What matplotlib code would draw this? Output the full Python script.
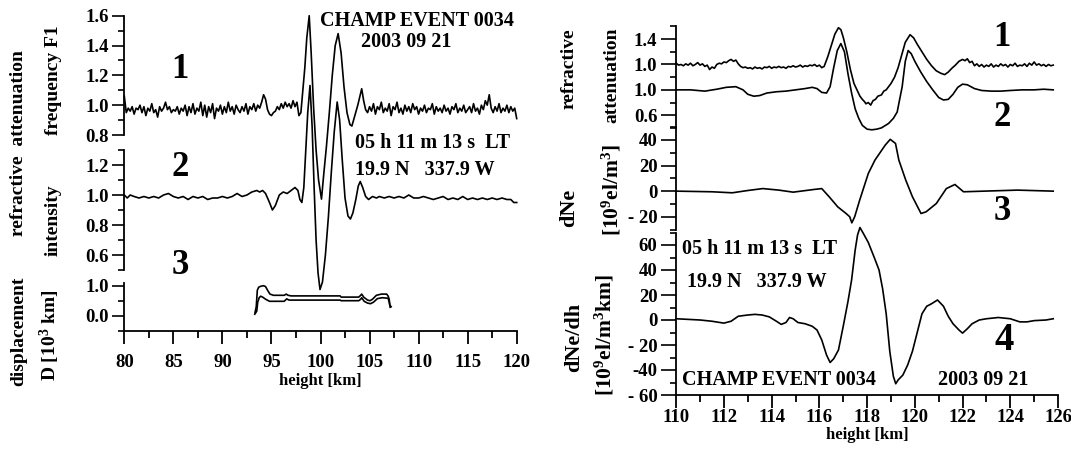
import numpy as np
import matplotlib
matplotlib.use("Agg")
import matplotlib.pyplot as plt
from matplotlib.ticker import FixedLocator, MultipleLocator, FormatStrFormatter

plt.rcParams['font.family'] = ['Liberation Serif', 'DejaVu Serif']
plt.rcParams['font.weight'] = 'bold'
plt.rcParams['axes.labelweight'] = 'bold'
plt.rcParams['mathtext.fontset'] = 'custom'
plt.rcParams['mathtext.rm'] = 'Liberation Serif:bold'
plt.rcParams['mathtext.default'] = 'rm'
plt.rcParams['axes.unicode_minus'] = False

W, H = 1071, 458

# ---------------- left panel data (height in km) ----------------
# curve 1 : refractive attenuation, frequency F1 (noisy)
f1_noise_a = [1.06, 0.95, 0.98, 0.96, 0.99, 0.94, 0.98, 0.97, 1.00, 0.95,
              0.99, 0.93, 0.98, 0.96, 1.01, 0.95, 0.97, 0.92, 0.99, 0.96,
              0.98, 1.02, 0.97, 0.99, 0.95, 0.97, 0.96, 0.99, 0.94, 0.98,
              0.96, 1.00, 0.93, 0.99, 0.95, 1.01, 0.94, 0.98, 0.96, 1.02,
              0.93, 1.00, 0.92, 0.99, 0.95, 1.01, 0.91, 0.98, 0.96, 1.00,
              0.94, 0.99, 0.95, 1.02, 0.96, 0.99, 0.94, 1.00, 0.97, 0.95,
              0.99, 0.96, 1.01, 0.94, 0.99, 0.97, 1.01, 0.96, 1.00, 0.98,
              1.02, 1.07, 1.04, 0.97, 0.94, 0.93, 0.95, 0.96, 0.99, 0.97,
              1.01, 0.98, 1.02, 0.99, 1.01, 0.98, 1.03, 0.99, 1.02, 0.93]
f1_event_h = [98.0, 98.2, 98.4, 98.6, 98.85, 99.05, 99.3, 99.55, 99.8, 100.1,
              100.35, 100.6, 100.9, 101.2, 101.5, 101.8, 102.1, 102.4, 102.7, 103.0,
              103.2, 103.5, 103.8, 104.05, 104.2, 104.4, 104.6]
f1_event = [0.95, 1.10, 1.25, 1.45, 1.60, 1.35, 0.98, 0.70, 0.50, 0.37,
            0.55, 0.72, 0.95, 1.20, 1.40, 1.48, 1.35, 1.12, 0.95, 0.87,
            0.86, 0.93, 1.00, 1.07, 1.11, 1.03, 0.97]
f1_noise_b = [0.95, 0.99, 0.96, 1.01, 0.94, 0.99, 0.97, 1.02, 0.95, 0.98,
              0.96, 1.01, 0.93, 0.99, 0.97, 1.02, 0.95, 0.98, 0.94, 1.00,
              0.96, 0.99, 0.95, 1.01, 0.97, 0.99, 0.94, 0.98, 0.96, 1.00,
              0.95, 0.98, 0.97, 1.01, 0.94, 0.99, 0.96, 0.98, 0.95, 1.00,
              0.96, 0.98, 0.94, 0.99, 0.97, 1.01, 0.95, 0.98, 0.96, 1.00,
              0.95, 0.97, 0.99, 0.95, 1.01, 0.96, 0.98, 0.94, 1.00, 0.97,
              1.03, 1.00, 1.07, 0.98, 0.95, 0.99, 0.96, 1.01, 0.95, 0.98,
              0.96, 1.00, 0.95, 0.99, 0.96, 0.98, 0.91]
f1_h = list(np.arange(len(f1_noise_a)) * 0.2 + 80.0) + f1_event_h + \
       list(np.arange(len(f1_noise_b)) * 0.2 + 104.8)
f1_val = f1_noise_a + f1_event + f1_noise_b

# curve 2 : refractive attenuation, intensity
int_h = [80.0, 80.3, 80.6, 81.0, 81.5, 82.0, 82.5, 83.0, 83.5, 84.0, 84.5, 85.0,
         85.5, 86.0, 86.5, 87.0, 87.5, 88.0, 88.5, 89.0, 89.5, 90.0, 90.5, 91.0,
         91.5, 92.0, 92.5, 93.0, 93.5, 93.8, 94.1, 94.4, 94.8, 95.1, 95.4, 95.8,
         96.2, 96.6, 97.0, 97.4, 97.7, 97.9, 98.1, 98.3, 98.5, 98.7, 98.93, 99.15,
         99.35, 99.55, 99.75, 99.95, 100.2, 100.5, 100.8, 101.1, 101.4, 101.7,
         101.95, 102.2, 102.5, 102.8, 103.05, 103.3, 103.6, 103.85, 104.05, 104.3,
         104.6, 104.9, 105.3, 105.7, 106.0, 106.5, 107.0, 107.5, 108.0, 108.5,
         109.0, 109.5, 110.0, 110.5, 111.0, 111.5, 112.0, 112.5, 113.0, 113.5,
         114.0, 114.5, 115.0, 115.5, 116.0, 116.5, 117.0, 117.5, 118.0, 118.5,
         119.0, 119.4, 119.7, 120.0]
int_val = [1.00, 0.98, 1.00, 0.99, 0.98, 0.99, 0.98, 0.99, 0.98, 1.00, 1.01, 0.99,
           0.98, 0.99, 0.97, 0.99, 0.98, 0.99, 0.97, 0.98, 0.98, 0.99, 0.98, 0.99,
           1.01, 0.99, 1.00, 1.02, 1.03, 1.02, 1.03, 1.01, 0.95, 0.90, 0.93, 1.00,
           1.02, 1.01, 1.03, 1.05, 1.03, 0.97, 0.95, 1.05, 1.30, 1.55, 1.73, 1.45,
           1.05, 0.70, 0.48, 0.37, 0.42, 0.60, 0.85, 1.15, 1.42, 1.62,
           1.50, 1.25, 0.98, 0.86, 0.84, 0.88, 0.97, 1.06, 1.09, 1.05,
           0.99, 0.97, 0.99, 0.98, 0.99, 0.98, 0.99, 0.98, 0.99, 0.98,
           1.00, 0.98, 0.98, 0.99, 0.98, 0.97, 0.98, 0.99, 0.97, 0.98,
           0.97, 0.99, 0.97, 0.98, 0.97, 0.98, 0.97, 0.98, 0.97, 0.98,
           0.97, 0.97, 0.95, 0.95]

# curve 3 : displacement D, two lines
d_up_h = [93.32, 93.45, 93.56, 93.7, 93.9, 94.2, 94.4, 94.6, 94.85, 95.2, 95.8, 96.3,
          96.5, 96.7, 97.0, 102.0, 102.1, 103.9, 104.1, 104.2, 104.4, 104.8, 105.05,
          105.3, 105.7, 106.2, 106.75, 106.9, 107.0, 107.08, 107.2]
d_up = [0.10, 0.30, 0.85, 0.95, 0.98, 1.00, 0.97, 0.85, 0.72, 0.68, 0.68, 0.68,
        0.72, 0.68, 0.66, 0.66, 0.62, 0.62, 0.68, 0.72, 0.62, 0.52, 0.50,
        0.55, 0.68, 0.72, 0.72, 0.65, 0.55, 0.35, 0.30]
d_lo_h = [93.3, 93.5, 93.6, 93.75, 93.9, 94.1, 94.4, 94.8, 95.5, 96.3, 96.55, 96.8,
          102.0, 102.1, 103.9, 104.1, 104.2, 104.45, 104.8, 105.1, 105.4, 105.8,
          106.3, 106.9, 107.0, 107.1]
d_lo = [0.05, 0.15, 0.45, 0.60, 0.65, 0.62, 0.55, 0.48, 0.48, 0.48, 0.56, 0.52,
        0.52, 0.50, 0.50, 0.55, 0.60, 0.48, 0.42, 0.40, 0.45, 0.57,
        0.60, 0.58, 0.45, 0.28]

# ---------------- right panel data ----------------
att1_noise_a = [1.02, 0.99, 1.00, 0.98, 1.01, 0.99, 1.02, 0.98, 1.00, 1.03,
                0.99, 1.01, 0.97, 0.99, 0.92, 0.96, 0.94, 1.00, 1.02, 1.01,
                1.04, 1.03, 1.06, 1.08, 1.05, 1.07, 1.01, 0.97, 0.95, 0.96,
                0.94, 0.95, 0.93, 0.96, 0.94, 0.95, 0.93, 0.96, 0.95, 0.97,
                0.94, 0.96, 0.95, 0.97, 0.95, 0.96, 0.94, 0.97, 0.96, 0.98,
                0.96, 0.97, 0.99, 0.96, 0.98, 0.97, 0.99, 0.98, 1.00, 0.97,
                0.99, 0.95, 0.97]
att1_event_h = [116.35, 116.5, 116.65, 116.8, 116.9, 117.0, 117.15, 117.3, 117.45,
                117.6, 117.7, 117.8, 117.9, 117.95, 118.05, 118.15, 118.25, 118.35,
                118.45, 118.6, 118.7, 118.8, 119.0, 119.15, 119.3, 119.45, 119.6,
                119.8, 119.95, 120.1, 120.3, 120.5, 120.7, 120.9, 121.1, 121.25,
                121.4, 121.55, 121.7, 121.85, 122.0]
att1_event = [1.12, 1.30, 1.48, 1.58, 1.55, 1.43, 1.20, 0.92, 0.70,
              0.58, 0.50, 0.45, 0.41, 0.38, 0.40, 0.36, 0.43, 0.45,
              0.50, 0.52, 0.58, 0.60, 0.70, 0.80, 0.95, 1.15, 1.35,
              1.47, 1.42, 1.32, 1.20, 1.08, 0.98, 0.90, 0.86, 0.84,
              0.88, 0.94, 0.99, 1.05, 1.08]
att1_noise_b = [1.06, 1.09, 1.03, 1.05, 0.98, 1.01, 0.97, 1.00, 0.96, 0.99,
                0.97, 1.01, 0.96, 0.99, 0.97, 1.01, 0.98, 1.00, 0.96, 1.00,
                0.98, 1.02, 0.97, 0.99, 0.98, 1.01, 0.97, 1.02, 0.99, 1.04,
                0.99, 1.01, 0.98, 1.00, 0.97, 1.00, 0.98, 0.99]
att1_h = list(np.arange(len(att1_noise_a)) * 0.1 + 110.0) + att1_event_h + \
         list(np.arange(len(att1_noise_b)) * 0.1 + 122.1)
att1_val = att1_noise_a + att1_event + att1_noise_b

att2_h = [110.0, 110.6, 111.2, 111.7, 112.1, 112.5, 112.8, 113.0, 113.25, 113.5, 113.8,
          114.2, 114.6, 115.0, 115.4, 115.7, 115.9, 116.1, 116.3, 116.45, 116.6, 116.75,
          116.9, 117.05, 117.2, 117.35, 117.5, 117.65, 117.8, 118.0, 118.2, 118.4,
          118.6, 118.9, 119.1, 119.26, 119.47, 119.6, 119.72, 119.85, 120.0, 120.25,
          120.5, 120.75, 121.0, 121.2, 121.4, 121.6, 121.8, 122.0, 122.2, 122.5,
          122.8, 123.2, 123.6, 124.0, 124.5, 125.0, 125.4, 125.8]
att2_val = [1.00, 1.00, 0.98, 1.01, 1.04, 1.05, 1.00, 0.93, 0.90, 0.91, 0.95,
            0.97, 0.98, 1.00, 1.02, 1.04, 1.02, 0.96, 0.95, 1.05, 1.35, 1.62,
            1.73, 1.60, 1.25, 0.95, 0.70, 0.55, 0.44, 0.38, 0.37, 0.38,
            0.40, 0.47, 0.55, 0.65, 1.05, 1.45, 1.62, 1.57, 1.45, 1.28,
            1.13, 1.00, 0.88, 0.84, 0.85, 0.93, 1.04, 1.09, 1.08, 1.02,
            0.99, 0.98, 0.98, 0.99, 1.00, 1.00, 1.01, 1.00]
att2_shift = 0.4   # curve 2 drawn one step below curve 1

dne_h = [110.0, 111.5, 112.35, 113.0, 113.63, 114.3, 114.9, 115.77, 116.1, 116.41,
         116.77, 117.12, 117.27, 117.36, 117.48, 117.69, 118.05, 118.33, 118.76,
         118.97, 119.19, 119.33, 119.62, 119.9, 120.26, 120.47, 120.9, 121.32,
         121.68, 122.04, 122.9, 124.3, 125.8]
dne_val = [0, -0.5, -1.3, 0.5, 2, 0.8, -0.8, 1.3, 2, -4.4,
           -12.3, -17.5, -20, -24.8, -20, -7, 13.8, 24.3, 36,
           40.5, 37.3, 24.3, 8.6, -4.4, -17.5, -16.2, -9.7, 2,
           5.2, -0.5, 0, 0.8, 0]

dnedh_h = [110.0, 110.5, 111.0, 111.5, 112.0, 112.3, 112.6, 113.0, 113.3, 113.6, 113.9,
           114.2, 114.4, 114.6, 114.75, 114.9, 115.1, 115.4, 115.7, 115.9, 116.1, 116.3,
           116.45, 116.6, 116.8, 117.0, 117.2, 117.35, 117.5, 117.6, 117.7, 117.85,
           118.05, 118.3, 118.5, 118.65, 118.8, 118.95, 119.1, 119.2, 119.3, 119.5,
           119.7, 119.9, 120.1, 120.3, 120.5, 120.7, 120.95, 121.2, 121.4, 121.6,
           121.85, 122.0, 122.2, 122.4, 122.7, 123.0, 123.5, 124.0, 124.4, 124.7,
           125.0, 125.5, 125.8]
dnedh_val = [1, 0.5, 0, -1, -2.5, -1, 3, 4, 4.5, 4, 2.5,
             -1, -3.5, -2, 2, 1, -2, -3, -5, -8, -16, -28,
             -34, -31, -24, -5, 15, 32, 56, 68, 74, 69,
             62, 50, 40, 25, 5, -25, -45, -51, -48, -44,
             -36, -25, -10, 5, 11, 13, 16, 11, 3, -3,
             -8, -10.5, -7, -3, 0, 1, 2, 1, -1.5, -1.5,
             -0.5, 0, 1]

# tick labels
left_xticks = [80, 85, 90, 95, 100, 105, 110, 115, 120]
right_xticks = [110, 112, 114, 116, 118, 120, 122, 124, 126]
att_tick_pos = [0.2, 0.6, 1.0, 1.4]
att_tick_lab = ["0.6", "1.0", "1.0", "1.4"]
dne_ticks = [-20, 0, 20, 40]
dne_tick_lab = ["- 20", "0", "20", "40"]
dnedh_ticks = [-60, -40, -20, 0, 20, 40, 60]
dnedh_tick_lab = ["- 60", "-40", "- 20", "0", "20", "40", "60"]

fs_tick = 13.5
fs_txt = 14.5
lw = 1.2


def box(x0, y0, x1, y1):
    # pixel box (top-left origin) -> figure rect
    return [x0 / W, 1 - y1 / H, (x1 - x0) / W, (y1 - y0) / H]


def style(ax, bottom=False, major=8.5, minor=4.3):
    for s in ['top', 'right']:
        ax.spines[s].set_visible(False)
    if not bottom:
        ax.spines['bottom'].set_visible(False)
        ax.tick_params(axis='x', which='both', bottom=False, labelbottom=False)
    ax.spines['left'].set_linewidth(1.3)
    ax.spines['bottom'].set_linewidth(1.3)
    ax.patch.set_alpha(0)
    ax.tick_params(axis='y', which='major', direction='out', length=major, width=1.2,
                   labelsize=fs_tick, pad=2.5)
    ax.tick_params(axis='y', which='minor', direction='out', length=minor, width=1.2)


fig = plt.figure(figsize=(W / 100, H / 100), dpi=100)

# ---------- left panel ----------
ax1 = fig.add_axes(box(124.3, 15.7, 516.7, 135))
ax1.plot(f1_h, f1_val, color='black', lw=lw, clip_on=False)
ax1.set_xlim(80, 120)
ax1.set_ylim(0.8, 1.6)
ax1.yaxis.set_major_locator(MultipleLocator(0.2))
ax1.yaxis.set_minor_locator(MultipleLocator(0.1))
ax1.yaxis.set_major_formatter(FormatStrFormatter('%.1f'))
style(ax1)

ax2 = fig.add_axes(box(124.3, 150, 516.7, 270))
ax2.plot(int_h, int_val, color='black', lw=lw, clip_on=False)
ax2.set_xlim(80, 120)
ax2.set_ylim(0.5, 1.3)
ax2.yaxis.set_major_locator(FixedLocator([0.6, 0.8, 1.0, 1.2]))
ax2.yaxis.set_minor_locator(FixedLocator([0.5, 0.7, 0.9, 1.1, 1.3]))
ax2.yaxis.set_major_formatter(FormatStrFormatter('%.1f'))
style(ax2)

ax3 = fig.add_axes(box(124.3, 282.7, 516.7, 330.7))
ax3.plot(d_up_h, d_up, color='black', lw=lw, clip_on=False)
ax3.plot(d_lo_h, d_lo, color='black', lw=lw, clip_on=False)
ax3.set_xlim(80, 120)
ax3.set_ylim(-0.5, 1.1)
ax3.yaxis.set_major_locator(FixedLocator([0.0, 1.0]))
ax3.yaxis.set_minor_locator(FixedLocator([-0.5, 0.5]))
ax3.yaxis.set_major_formatter(FormatStrFormatter('%.1f'))
style(ax3, bottom=True)
ax3.set_xticks(left_xticks)
ax3.xaxis.set_minor_locator(MultipleLocator(2.5))
ax3.tick_params(axis='x', which='major', direction='out', length=9.5, width=1.3,
                labelsize=fs_tick, pad=7)
ax3.tick_params(axis='x', which='minor', direction='out', length=5, width=1.3)
ax3.set_xlabel("height [km]", fontsize=12, fontweight='bold', labelpad=2)

# ---------- right panel ----------
rx0, rx1 = 676.2, 1058.0
ax4 = fig.add_axes(box(rx0, 26.45, rx1, 127.9))
ax4.plot(att1_h, att1_val, color='black', lw=lw, clip_on=False)
ax4.plot(att2_h, np.array(att2_val) - att2_shift, color='black', lw=lw, clip_on=False)
ax4.set_xlim(110, 126)
ax4.set_ylim(0, 1.6)
ax4.yaxis.set_major_locator(FixedLocator(att_tick_pos))
ax4.set_yticklabels(att_tick_lab)
ax4.yaxis.set_minor_locator(FixedLocator([0.0, 0.4, 0.8, 1.2, 1.6]))
style(ax4, major=11, minor=4.5)

ax5 = fig.add_axes(box(rx0, 127.2, rx1, 229.5))
ax5.plot(dne_h, dne_val, color='black', lw=lw, clip_on=False)
ax5.set_xlim(110, 126)
ax5.set_ylim(-30, 50)
ax5.yaxis.set_major_locator(FixedLocator(dne_ticks))
ax5.set_yticklabels(dne_tick_lab)
ax5.yaxis.set_minor_locator(FixedLocator([-30, -10, 10, 30, 50]))
style(ax5, major=11, minor=4.5)

ax6 = fig.add_axes(box(rx0, 232.5, rx1, 395))
ax6.plot(dnedh_h, dnedh_val, color='black', lw=lw, clip_on=False)
ax6.set_xlim(110, 126)
ax6.set_ylim(-60, 70)
ax6.yaxis.set_major_locator(FixedLocator(dnedh_ticks))
ax6.set_yticklabels(dnedh_tick_lab)
ax6.yaxis.set_minor_locator(FixedLocator([-50, -30, -10, 10, 30, 50, 70]))
style(ax6, bottom=True, major=11, minor=4.5)
ax6.set_xticks(right_xticks)
ax6.xaxis.set_minor_locator(MultipleLocator(1))
ax6.tick_params(axis='x', which='major', direction='out', length=9.5, width=1.3,
                labelsize=fs_tick, pad=0.5)
ax6.tick_params(axis='x', which='minor', direction='out', length=5, width=1.3)
ax6.set_xlabel("height [km]", fontsize=12, fontweight='bold', labelpad=1)


def txt(x, y, s, size=fs_txt, ha='left', rot=0):
    fig.text(x / W, 1 - y / H, s, fontsize=size, ha=ha, va='center',
             rotation=rot, fontweight='bold')


# left annotations
txt(417, 21, "CHAMP EVENT 0034", ha='center')
txt(406, 42, "2003 09 21", ha='center')
txt(355, 143, "05 h 11 m 13 s  LT")
txt(355, 170, "19.9 N   337.9 W")
txt(180, 69, "1", size=25, ha='center')
txt(180, 167, "2", size=25, ha='center')
txt(180, 266, "3", size=25, ha='center')
txt(19, 143, "refractive  attenuation", size=14, ha='center', rot=90)
txt(53, 80, "frequency F1", size=14, ha='center', rot=90)
txt(53, 220, "intensity", size=14, ha='center', rot=90)
txt(19, 331, "displacement", size=14, ha='center', rot=90)
txt(50, 335, "D [10$^{3}$ km]", size=14, ha='center', rot=90)

# right annotations
txt(1002, 38, "1", size=25, ha='center')
txt(1002, 118, "2", size=25, ha='center')
txt(1002, 212, "3", size=25, ha='center')
txt(1004, 340, "4", size=28, ha='center')
txt(682, 249, "05 h 11 m 13 s  LT")
txt(687, 282, "19.9 N   337.9 W")
txt(682, 380, "CHAMP EVENT 0034")
txt(983, 380, "2003 09 21", ha='center')
txt(569, 69, "refractive", size=14, ha='center', rot=90)
txt(612, 75, "attenuation", size=14, ha='center', rot=90)
txt(569, 208, "dNe", size=16, ha='center', rot=90)
txt(612, 190, "[10$^9$el/m$^3$]", size=15.5, ha='center', rot=90)
txt(574, 337, "dNe/dh", size=16, ha='center', rot=90)
txt(605, 335, "[10$^9$el/m$^3$km]", size=15.5, ha='center', rot=90)

fig.savefig("out.png", dpi=100)
